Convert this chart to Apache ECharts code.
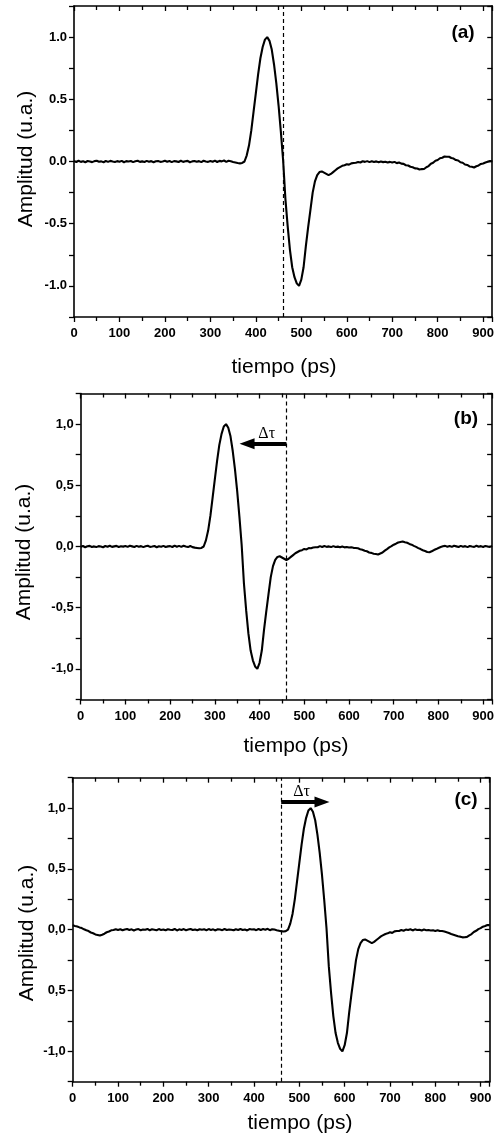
<!DOCTYPE html>
<html><head><meta charset="utf-8">
<script src="https://cdn.jsdelivr.net/npm/echarts@6/dist/echarts.min.js"></script>
<style>html,body{margin:0;padding:0;background:#fff}#c{width:497px;height:1137px}</style>
</head><body><div id="c"></div>
<script>
// time samples (ps)
const tiempo = [
0,5,10,15,20,25,30,35,40,45,50,55,60,65,70,75,80,85,90,95,
100,105,110,115,120,125,130,135,140,145,150,155,160,165,170,175,180,185,190,195,
200,205,210,215,220,225,230,235,240,245,250,255,260,265,270,275,280,285,290,295,
300,305,310,315,320,325,330,335,340,345,350,355,360,365,370,375,380,385,390,395,
400,405,410,415,420,425,430,435,440,445,450,455,460,465,470,475,480,485,490,495,
500,505,510,515,520,525,530,535,540,545,550,555,560,565,570,575,580,585,590,595,
600,605,610,615,620,625,630,635,640,645,650,655,660,665,670,675,680,685,690,695,
700,705,710,715,720,725,730,735,740,745,750,755,760,765,770,775,780,785,790,795,
800,805,810,815,820,825,830,835,840,845,850,855,860,865,870,875,880,885,890,895,
900,905,910,915,920];

// panel (a) amplitude
const ampA = [
0.005,-0.004,0.006,-0.003,0.002,-0.006,0.004,0.000,-0.005,0.003,0.006,-0.002,0.001,-0.006,0.004,-0.003,0.005,0.000,-0.004,0.003,
-0.002,0.005,-0.006,0.003,0.000,0.004,-0.005,0.002,0.006,-0.003,0.001,-0.004,0.005,-0.002,0.003,-0.006,0.002,0.004,-0.003,0.000,
0.006,-0.002,0.004,-0.005,0.003,0.001,-0.004,0.006,-0.003,0.002,0.005,-0.006,0.001,0.004,-0.002,0.003,-0.005,0.006,0.000,-0.003,
0.004,-0.002,0.007,-0.004,0.005,0.001,0.008,-0.003,0.006,0.002,-0.004,-0.008,-0.012,-0.015,-0.012,0.000,0.05,0.13,0.25,0.40,
0.55,0.70,0.83,0.92,0.98,1.00,0.97,0.90,0.78,0.63,0.45,0.24,0.01,-0.30,-0.52,-0.71,-0.85,-0.93,-0.98,-1.00,
-0.95,-0.85,-0.68,-0.53,-0.39,-0.25,-0.16,-0.11,-0.085,-0.080,-0.090,-0.100,-0.110,-0.100,-0.085,-0.070,-0.055,-0.045,-0.035,-0.030,
-0.022,-0.025,-0.015,-0.012,-0.010,-0.004,-0.008,0.002,-0.003,0.003,-0.005,0.002,-0.004,0.001,-0.006,0.000,-0.005,-0.002,-0.008,-0.003,
-0.009,-0.003,-0.013,-0.008,-0.017,-0.019,-0.030,-0.032,-0.042,-0.046,-0.055,-0.056,-0.064,-0.061,-0.060,-0.046,-0.037,-0.018,-0.010,0.006,
0.012,0.026,0.030,0.040,0.038,0.038,0.028,0.024,0.012,0.008,-0.006,-0.010,-0.024,-0.028,-0.040,-0.042,-0.048,-0.038,-0.032,-0.020,
-0.016,-0.008,-0.002,0.003,0.002];

// panel (b) amplitude
const ampB = [
-0.003,0.004,-0.006,0.002,0.005,-0.004,0.001,-0.005,0.003,0.000,-0.006,0.004,-0.002,0.006,-0.003,0.001,0.005,-0.004,0.002,-0.001,
0.004,-0.003,0.006,0.001,-0.004,0.005,-0.002,0.003,-0.005,0.002,0.006,-0.003,0.000,0.004,-0.006,0.002,-0.002,0.005,-0.004,0.001,
0.003,-0.004,0.007,-0.002,0.005,-0.003,0.006,0.000,-0.005,0.004,-0.005,-0.009,-0.012,-0.015,-0.012,0.000,0.05,0.13,0.25,0.40,
0.55,0.70,0.83,0.92,0.98,1.00,0.97,0.90,0.78,0.63,0.45,0.24,0.01,-0.30,-0.52,-0.71,-0.85,-0.93,-0.98,-1.00,
-0.95,-0.85,-0.68,-0.53,-0.39,-0.25,-0.16,-0.11,-0.085,-0.080,-0.090,-0.100,-0.110,-0.100,-0.085,-0.070,-0.055,-0.045,-0.035,-0.030,
-0.020,-0.024,-0.013,-0.014,-0.008,-0.006,-0.006,0.003,-0.004,0.004,-0.003,0.001,-0.005,0.003,-0.004,-0.001,-0.006,0.000,-0.007,-0.004,
-0.008,-0.006,-0.011,-0.012,-0.015,-0.022,-0.027,-0.035,-0.039,-0.049,-0.052,-0.059,-0.061,-0.065,-0.057,-0.049,-0.034,-0.021,-0.007,0.003,
0.015,0.023,0.033,0.037,0.041,0.035,0.031,0.021,0.015,0.005,-0.003,-0.013,-0.021,-0.031,-0.037,-0.045,-0.047,-0.039,-0.029,-0.021,
-0.012,-0.004,0.002,0.005,-0.002,0.004,-0.003,0.006,0.001,-0.004,0.005,-0.002,0.003,-0.005,0.004,0.000,-0.003,0.006,-0.002,0.003,
-0.004,0.005,0.000,-0.003,0.004];

// panel (c) amplitude
const ampC = [
0.036,0.031,0.027,0.019,0.013,0.003,-0.005,-0.011,-0.023,-0.029,-0.039,-0.043,-0.048,-0.041,-0.033,-0.021,-0.015,-0.005,-0.002,0.004,
-0.003,0.004,-0.005,0.002,0.006,-0.002,0.003,-0.006,0.001,0.005,-0.004,0.002,-0.001,0.006,-0.005,0.003,0.000,-0.004,0.005,-0.002,
0.002,-0.005,0.004,0.000,-0.003,0.006,-0.006,0.003,-0.002,0.005,-0.004,0.001,0.006,-0.003,0.002,-0.005,0.004,-0.001,0.003,-0.004,
0.005,-0.002,0.003,-0.006,0.004,0.001,-0.004,0.006,-0.003,0.002,0.000,-0.005,0.004,-0.002,0.006,-0.003,0.002,-0.006,0.005,0.001,
0.003,-0.004,0.006,-0.002,0.005,0.000,0.007,-0.004,0.004,0.001,-0.004,-0.008,-0.012,-0.015,-0.012,0.000,0.05,0.13,0.25,0.40,
0.55,0.70,0.83,0.92,0.98,1.00,0.97,0.90,0.78,0.63,0.45,0.24,0.01,-0.30,-0.52,-0.71,-0.85,-0.93,-0.98,-1.00,
-0.95,-0.85,-0.68,-0.53,-0.39,-0.25,-0.16,-0.11,-0.085,-0.080,-0.090,-0.100,-0.110,-0.100,-0.085,-0.070,-0.055,-0.045,-0.035,-0.030,
-0.021,-0.026,-0.014,-0.011,-0.011,-0.003,-0.009,0.001,-0.002,0.004,-0.006,0.003,-0.003,0.000,-0.007,0.001,-0.004,-0.003,-0.007,-0.004,
-0.010,-0.004,-0.011,-0.011,-0.015,-0.021,-0.027,-0.035,-0.041,-0.047,-0.054,-0.057,-0.063,-0.062,-0.059,-0.047,-0.036,-0.019,-0.009,0.005,
0.013,0.025,0.031,0.039,0.038];

const xTickLabels = [0,100,200,300,400,500,600,700,800,900];
const yTickValues = [-1, -0.5, 0, 0.5, 1];
const yLabelsA = ['-1.0','-0.5','0.0','0.5','1.0'];
const yLabelsB = ['-1,0','-0,5','0,0','0,5','1,0'];
const yLabelsC = ['-1,0','0,5','0,0','0,5','1,0'];
const panelLabels = ['(a)','(b)','(c)'];
const xTitle = 'tiempo (ps)';
const yTitle = 'Amplitud (u.a.)';
const refTime = 460;              // dashed reference line (ps)
const arrowB = [460, 372, 0.84];  // from, to, level
const arrowC = [460, 550, 1.05];
const deltaLabel = 'Δτ';

const chart = echarts.init(document.getElementById('c'), null, {renderer:'canvas'});

const grids = [
  {left:74, top:6, width:419, height:311},
  {left:80.7, top:393.5, width:414, height:306},
  {left:72.7, top:777.7, width:417, height:304}
];
const ampSets = [ampA, ampB, ampC];
const yLabelSets = [yLabelsA, yLabelsB, yLabelsC];
const arrows = [null, arrowB, arrowC];

const FONT = '"Liberation Sans", Arial, sans-serif';
const axisLine = {onZero:false, lineStyle:{color:'#000', width:1.6}};
const tickStyle = {color:'#000', width:1.3};

const xAxes = [], yAxes = [], series = [];
grids.forEach((g, i) => {
  xAxes.push({
    type:'value', gridIndex:i, min:0, max:920, interval:100, position:'bottom',
    axisLine, splitLine:{show:false},
    axisTick:{show:true, inside:false, length:5, lineStyle:tickStyle},
    minorTick:{show:true, splitNumber:2, length:4, lineStyle:tickStyle},
    axisLabel:{color:'#000', fontFamily:FONT, fontWeight:'bold', fontSize:13, margin:10,
      formatter: v => xTickLabels.includes(v) ? String(v) : ''}
  });
  xAxes.push({
    type:'value', gridIndex:i, min:0, max:920, interval:100, position:'top',
    axisLine, splitLine:{show:false},
    axisTick:{show:true, inside:true, length:5, lineStyle:tickStyle},
    minorTick:{show:true, splitNumber:2, length:4, lineStyle:tickStyle},
    axisLabel:{show:false}
  });
  const labs = yLabelSets[i];
  yAxes.push({
    type:'value', gridIndex:i, min:-1.25, max:1.25, interval:0.25, position:'left',
    axisLine, splitLine:{show:false},
    axisTick:{show:true, inside:false, length:5, lineStyle:tickStyle},
    axisLabel:{color:'#000', fontFamily:FONT, fontWeight:'bold', fontSize:13, margin:7,
      formatter: v => { const k = yTickValues.findIndex(t => Math.abs(t - v) < 1e-9); return k >= 0 ? labs[k] : ''; }}
  });
  yAxes.push({
    type:'value', gridIndex:i, min:-1.25, max:1.25, interval:0.25, position:'right',
    axisLine, splitLine:{show:false},
    axisTick:{show:true, inside:true, length:5, lineStyle:tickStyle},
    axisLabel:{show:false}
  });
  const mlData = [
    {xAxis: refTime, lineStyle:{type:[4,3], width:1.2, color:'#000'}, label:{show:false}}
  ];
  const a = arrows[i];
  if (a) {
    const left = Math.min(a[0], a[1]), right = Math.max(a[0], a[1]);
    const headLeft = a[1] < a[0];
    mlData.push([
      {coord:[left, a[2]], symbol: headLeft ? 'triangle' : 'none', symbolSize:[11,15]},
      {coord:[right, a[2]], symbol: headLeft ? 'none' : 'triangle', symbolSize:[11,15],
       lineStyle:{type:'solid', width:4, color:'#000'},
       label:{show:true, position:'middle', formatter: deltaLabel, color:'#000',
              fontFamily:'"Liberation Serif", "DejaVu Serif", serif', fontSize:16, distance:2}}
    ]);
  }
  series.push({
    type:'line', xAxisIndex:2*i, yAxisIndex:2*i,
    data: tiempo.map((t, k) => [t, ampSets[i][k]]),
    showSymbol:false, symbol:'none',
    lineStyle:{color:'#000', width:2.1},
    markLine:{silent:true, symbol:['none','none'], animation:false, data: mlData}
  });
});

const graphics = [];
const xTitlePos = [[284, 367], [296, 746], [300, 1123]];
const yTitlePos = [[26, 159], [24, 552], [27, 933]];
const panelPos = [[463, 33], [466, 419], [466, 800]];
for (let i = 0; i < 3; i++) {
  graphics.push({type:'text', x:xTitlePos[i][0], y:xTitlePos[i][1],
    style:{text:xTitle, font:'21px ' + FONT, fill:'#000', textAlign:'center', textVerticalAlign:'middle'}});
  graphics.push({type:'text', x:yTitlePos[i][0], y:yTitlePos[i][1], rotation:Math.PI/2,
    style:{text:yTitle, font:'21px ' + FONT, fill:'#000', textAlign:'center', textVerticalAlign:'middle'}});
  graphics.push({type:'text', x:panelPos[i][0], y:panelPos[i][1],
    style:{text:panelLabels[i], font:'bold 19px ' + FONT, fill:'#000', textAlign:'center', textVerticalAlign:'middle'}});
}

chart.setOption({
  animation:false,
  backgroundColor:'#fff',
  grid: grids,
  xAxis: xAxes,
  yAxis: yAxes,
  series,
  graphic: graphics
});
</script></body></html>
